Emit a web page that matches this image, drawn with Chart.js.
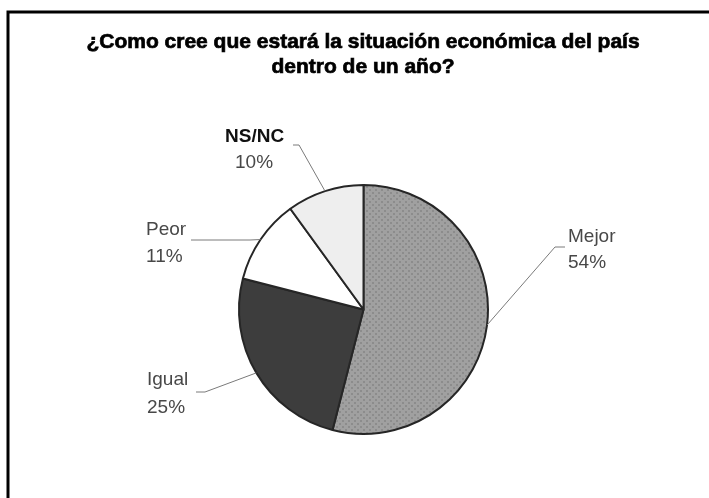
<!DOCTYPE html>
<html>
<head>
<meta charset="utf-8">
<script src="https://cdn.jsdelivr.net/npm/chart.js@4.4.1/dist/chart.umd.min.js"></script>
<style>
  html, body { margin: 0; padding: 0; background: #ffffff; }
  #wrap { position: relative; width: 709px; height: 498px; }
</style>
</head>
<body>
<div id="wrap"><canvas id="c" width="709" height="498"></canvas></div>
<script>
// Survey answers, in drawing order (clockwise from 12 o'clock)
const categories = ['Mejor', 'Igual', 'Peor', 'NS/NC'];
const shares = [54, 25, 11, 10];
const titleLines = [
  '¿Como cree que estará la situación económica del país',
  'dentro de un año?'
];

// Dotted grey fill used for the largest slice
function dottedFill() {
  const p = document.createElement('canvas');
  p.width = 6; p.height = 6;
  const g = p.getContext('2d');
  g.fillStyle = '#a0a0a0';
  g.fillRect(0, 0, 6, 6);
  g.fillStyle = '#8c8c8c';
  g.fillRect(0, 0, 2, 2);
  g.fillRect(3, 3, 2, 2);
  return g.createPattern(p, 'repeat');
}

const ctxMain = document.getElementById('c').getContext('2d');
const sliceFills = [dottedFill(), '#3d3d3d', '#ffffff', '#eeeeee'];

// Label placement: text block position and leader-line elbow for each slice
const labelLayout = [
  { x: 568, y1: 237, y2: 263, start: [565, 247], elbow: [555, 247], boldName: false },
  { x: 147, y1: 380, y2: 408, start: [196, 392], elbow: [205, 392], boldName: false },
  { x: 146, y1: 230, y2: 257, start: [191, 240], elbow: [250, 240], boldName: false },
  { x: 225, y1: 137, y2: 163, x2: 235, start: [293, 145], elbow: [299, 145], boldName: true }
];

const decorations = {
  id: 'decorations',
  beforeDraw(chart) {
    const ctx = chart.ctx;
    ctx.save();
    // partial frame (top and left edges)
    ctx.strokeStyle = '#000000';
    ctx.lineWidth = 3;
    ctx.beginPath();
    ctx.moveTo(709, 12);
    ctx.lineTo(8, 12);
    ctx.lineTo(8, 498);
    ctx.stroke();
    // title, slightly heavier than plain bold
    ctx.fillStyle = '#000000';
    ctx.strokeStyle = '#000000';
    ctx.lineWidth = 0.7;
    ctx.font = 'bold 21px "Liberation Sans", Arial, sans-serif';
    ctx.textAlign = 'center';
    ctx.textBaseline = 'middle';
    titleLines.forEach((t, k) => {
      ctx.fillText(t, 363, 42 + k * 25);
      ctx.strokeText(t, 363, 42 + k * 25);
    });
    ctx.restore();
  },
  afterDatasetsDraw(chart) {
    const ctx = chart.ctx;
    const meta = chart.getDatasetMeta(0);
    const total = shares.reduce((a, b) => a + b, 0);
    ctx.save();
    meta.data.forEach((arc, i) => {
      const lay = labelLayout[i];
      const mid = (arc.startAngle + arc.endAngle) / 2;
      const ax = arc.x + Math.cos(mid) * arc.outerRadius;
      const ay = arc.y + Math.sin(mid) * arc.outerRadius;
      // leader line
      ctx.strokeStyle = '#7a7a7a';
      ctx.lineWidth = 1;
      ctx.beginPath();
      ctx.moveTo(lay.start[0], lay.start[1]);
      ctx.lineTo(lay.elbow[0], lay.elbow[1]);
      ctx.lineTo(ax, ay);
      ctx.stroke();
      // text
      ctx.textAlign = 'left';
      ctx.textBaseline = 'middle';
      if (lay.boldName) {
        ctx.fillStyle = '#111111';
        ctx.font = 'bold 19px "Liberation Sans", Arial, sans-serif';
      } else {
        ctx.fillStyle = '#484848';
        ctx.font = '19px "Liberation Sans", Arial, sans-serif';
      }
      ctx.fillText(categories[i], lay.x, lay.y1);
      ctx.fillStyle = '#484848';
      ctx.font = '19px "Liberation Sans", Arial, sans-serif';
      const pct = Math.round(shares[i] / total * 100) + '%';
      ctx.fillText(pct, lay.x2 !== undefined ? lay.x2 : lay.x, lay.y2);
    });
    ctx.restore();
  }
};

new Chart(ctxMain, {
  type: 'pie',
  data: {
    labels: categories,
    datasets: [{
      data: shares,
      backgroundColor: sliceFills,
      borderColor: '#262626',
      borderWidth: 2,
      hoverOffset: 0
    }]
  },
  options: {
    responsive: false,
    animation: false,
    events: [],
    layout: { padding: { left: 238, right: 220, top: 184, bottom: 63 } },
    plugins: {
      legend: { display: false },
      title: { display: false },
      tooltip: { enabled: false }
    }
  },
  plugins: [decorations]
});
</script>
</body>
</html>
